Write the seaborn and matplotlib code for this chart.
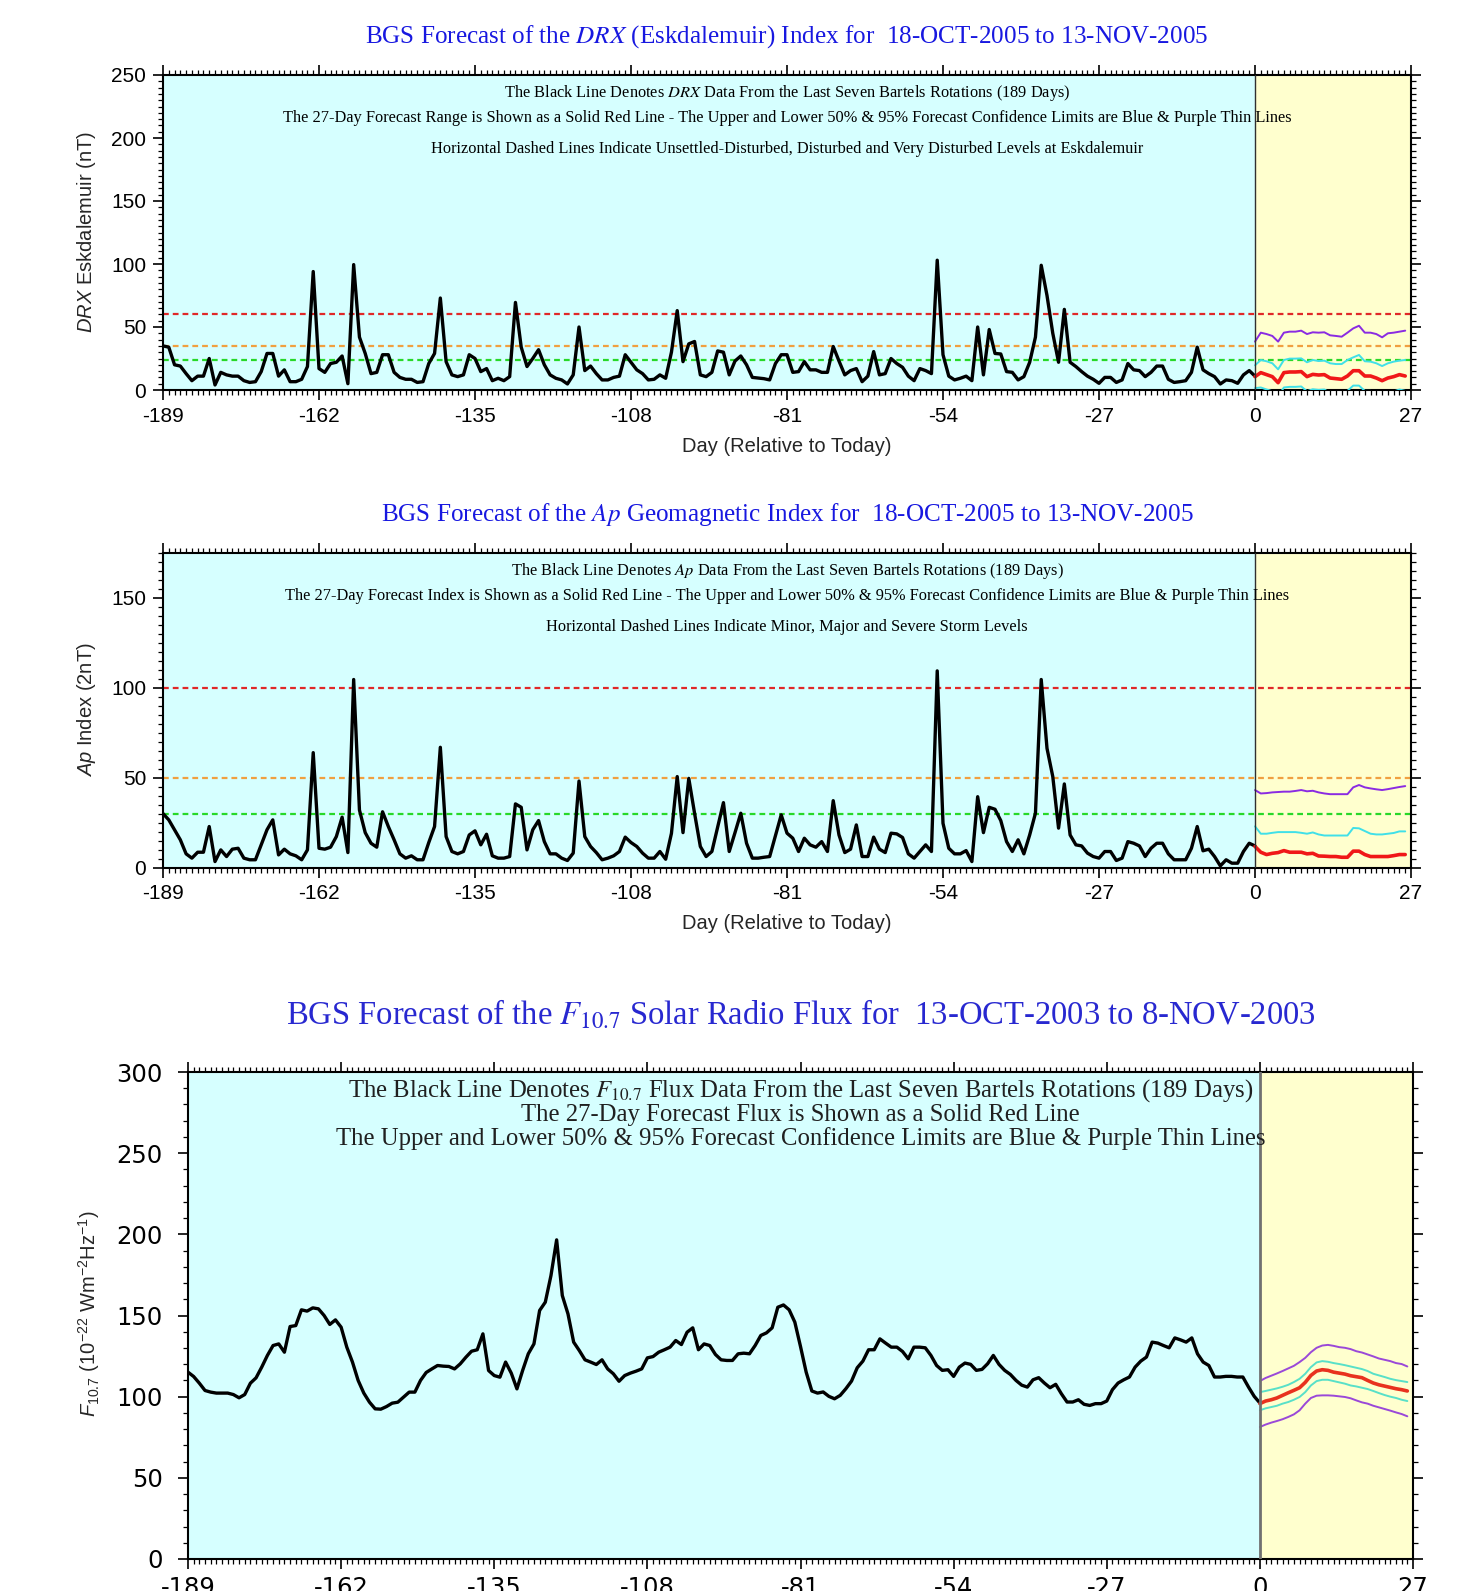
import numpy as np
import pandas as pd
import matplotlib
matplotlib.use('Agg')
import matplotlib.pyplot as plt
import seaborn as sns
from matplotlib.ticker import MultipleLocator

# ---------------- data ----------------
drx_obs = [35, 34, 20, 19, 13, 7.4, 11, 11, 25, 4,
           14, 12, 11, 11, 7.4, 6, 6.6, 14.6, 29, 29,
           11, 16, 6.6, 6.6, 8.5, 18.6, 94, 17, 14, 21,
           22, 27, 5, 99.5, 42, 29, 13, 14, 28, 28,
           14, 10, 8.5, 8.5, 6, 6.6, 21, 29, 73, 22.5,
           12, 10.6, 12, 28, 25, 14.6, 17, 7.4, 9.3, 7.4,
           10.6, 69.5, 34, 18.6, 25, 32, 20, 12, 9.3, 8,
           4.8, 12, 50, 15.4, 19, 13, 8, 8, 10, 11,
           28, 22, 16, 13, 8, 8.5, 12, 9.3, 30, 63,
           22.5, 36.6, 38.5, 12, 10.6, 14, 31, 30, 12, 23,
           27, 20, 10, 9.5, 9, 8, 21, 28, 28, 14,
           14.6, 22.5, 16, 16, 14, 14, 34.5, 23, 12, 15.4,
           17, 6.6, 11, 30.5, 12, 13, 25, 21, 18, 11,
           7.4, 17, 15.4, 13, 103, 28, 11, 8, 9.3, 11,
           7.4, 50, 12, 48, 29, 28.6, 14.6, 14, 8, 10.6,
           22, 42, 99, 75, 45, 22, 64, 22, 18.6, 14.6,
           11, 8.5, 5.3, 10, 10, 6, 8, 21, 16, 15.4,
           10.6, 14, 19, 19, 8.5, 6, 6.6, 7.4, 14, 34,
           16, 13, 10.6, 4.8, 8, 7.4, 5.3, 12, 15.4, 11]
drx_fc = [10.6, 13.8, 12.2, 10.6, 5.8, 13.8, 14.3, 14.3, 14.6, 10.6, 12.4, 11.9, 12.2, 9.5,
          9, 8.5, 11.1, 15.3, 15.3, 11.1, 11.1, 9.5, 7.4, 9.5, 10.6, 12.2, 11.1]
drx_up50 = [19.6, 23.8, 22.8, 21.2, 16.4, 23.8, 24.9, 24.9, 25.1, 22, 23.8, 23, 23.3, 21.2,
            20.6, 20.6, 23.8, 25.9, 27.8, 22.8, 22.5, 21.2, 19, 21.2, 22.5, 23.3, 23.8]
drx_lo50 = [1.5, 2, 0.4, -1, -5, 2, 2.5, 2.5, 2.8, -1, 0.6, 0.1, 0.4, -2.3,
            -2.8, -3.3, -0.7, 3.5, 3.5, -0.7, -0.7, -2.3, -4.4, -2.3, -1.2, 0.4, -0.7]
drx_up95 = [38.4, 45.5, 44.4, 42.9, 38.4, 45.5, 46.3, 46.3, 47.1, 44.4, 45.8, 45.5, 45.8, 43.4,
            42.9, 42.3, 45.5, 48.9, 51, 45.5, 45.5, 44.4, 41.8, 45, 45.5, 46.3, 47.1]
drx_levels = [60, 35, 24]

ap_obs = [30, 26.5, 21, 15.4, 7.6, 5.2, 8.5, 8.5, 22.8, 3.3,
          9.8, 6.1, 10.2, 10.7, 5.2, 4.3, 4.3, 12.6, 21, 26.5,
          7, 10.2, 7.6, 6.5, 4.3, 9.8, 63.9, 10.7, 10.2, 11.3,
          17.2, 28, 8.3, 104.6, 32, 19.4, 13.5, 11.3, 31, 22.8,
          15.4, 7.6, 5.2, 6.5, 4.3, 4.3, 13.9, 22.8, 66.9, 17.2,
          8.9, 7.6, 8.9, 18.1, 20.4, 12.6, 18.5, 6.5, 5.2, 5.2,
          6.1, 35.4, 33.5, 9.8, 21, 26.1, 14.4, 7.6, 7.6, 5.2,
          3.9, 8, 48.1, 17.2, 11.7, 8.3, 4.3, 5.2, 6.5, 8.9,
          16.9, 13.9, 11.7, 8, 5.2, 5.2, 8.9, 4.6, 19, 50.6,
          19.4, 49.6, 30.2, 11.7, 6.1, 8.9, 22.4, 36.1, 8.9, 19.4,
          30.2, 13.5, 5.2, 5.2, 5.7, 6.1, 17.6, 29.3, 19.1, 16.3,
          8.9, 16.3, 12.6, 11.3, 14.4, 8.9, 37.2, 18.1, 8.3, 10.2,
          23.7, 6.1, 6.1, 16.9, 10.2, 8.3, 19.1, 18.7, 16.7, 7.6,
          5.2, 8.9, 12.6, 8.9, 109.4, 24.6, 10.7, 7.6, 7.6, 9.4,
          3.3, 39.4, 19.4, 33.5, 32.4, 26.1, 14.4, 8.9, 15.4, 7.6,
          18.1, 30.2, 104.6, 66.3, 50.6, 21.9, 46.5, 18.1, 12.6, 12,
          8, 6.1, 5.2, 8.9, 8.9, 3.9, 5.2, 14.4, 13.5, 12,
          6.1, 10.7, 13.5, 13.5, 7.6, 4.3, 4.3, 4.3, 10.7, 22.8,
          9.3, 10.2, 6.1, 0.9, 4.3, 2.4, 2.4, 8.9, 13.5, 12]
ap_fc = [11.7, 8.5, 7.2, 7.9, 8.3, 9.4, 8.5, 8.5, 8.5, 7.6, 7.9, 6.4, 6.3, 6.1,
         6.1, 5.7, 5.7, 9.1, 9.1, 7.2, 6.1, 6.1, 6.1, 6.1, 6.6, 7.2, 7.2]
ap_up50 = [22.9, 18.8, 18.8, 19.3, 19.7, 19.7, 19.7, 19.7, 19.3, 18.8, 19.5, 18.4, 17.8, 17.8,
           17.8, 17.8, 17.8, 22, 21.8, 20.3, 18.8, 18.4, 18.4, 18.8, 19.2, 20.1, 20.1]
ap_up95 = [43.1, 41.2, 41.4, 41.8, 42, 42.2, 42.2, 42.6, 43.1, 42.4, 42.7, 41.8, 41.2, 40.8,
           40.8, 40.8, 40.8, 44.6, 45.9, 44.6, 44, 43.5, 43.1, 43.6, 44.2, 44.8, 45.3]
ap_levels = [100, 50, 30]

f107_obs = [115.1, 112.4, 108.3, 103.8, 102.8, 102.2, 102.2, 102.2, 101.3, 99.3,
            101.3, 108.3, 111.6, 118.2, 125.4, 131.5, 132.5, 127.4, 143.2, 143.8,
            153.5, 152.7, 154.7, 154.1, 150, 144.5, 147.3, 142.8, 130.5, 121.3,
            110, 102.2, 96.6, 92.5, 92.3, 93.9, 96, 96.6, 99.7, 102.8,
            102.8, 110, 114.9, 117.1, 119.2, 118.8, 118.6, 117.1, 120.2, 124.3,
            128, 128.9, 138.7, 116.1, 113, 112, 121.3, 114.5, 104.8, 116.1,
            126.4, 132.5, 153.1, 158.2, 174.6, 196.6, 162.3, 151, 133.6, 128.4,
            122.7, 121.3, 119.8, 122.7, 117.1, 114.1, 109.5, 113, 114.5, 115.7,
            117.1, 123.9, 124.7, 127.4, 128.9, 130.5, 134.6, 132.1, 139.7, 142.4,
            128.9, 132.5, 131.5, 126, 122.7, 122.3, 122.3, 126.4, 126.8, 126.4,
            131.5, 137.7, 139.3, 142.4, 155.1, 156.5, 153.5, 145.9, 130.9, 115.1,
            103.5, 102.2, 102.9, 100.2, 98.7, 100.8, 104.9, 109.6, 117.8, 121.9,
            128.9, 128.9, 135.6, 133, 130.5, 130.5, 127.8, 123.3, 130.5, 130.5,
            130.1, 125.4, 119.2, 116.2, 116.6, 112.5, 118.2, 120.7, 119.9, 116.2,
            116.8, 120.3, 125.4, 119.9, 116.2, 113.7, 110, 107.1, 105.9, 110.4,
            111.7, 108.4, 105.5, 107.6, 101.8, 96.7, 96.7, 98.1, 95.3, 94.6,
            95.7, 95.7, 97.3, 104.3, 108.4, 110.4, 112.1, 118.2, 121.9, 124.4,
            133.6, 133, 131.5, 130.1, 136.2, 135, 133.6, 136.2, 126.4, 121.3,
            119.2, 112.1, 112.1, 112.5, 112.5, 112.1, 112.1, 105.9, 100.2, 96.1]
f107_fc = [95.7, 97.3, 98.1, 99.2, 100.8, 102.4, 103.9, 105.5, 108.8, 113.1, 115.8, 116.6, 116.2,
           115.1, 114.5, 113.9, 112.9, 112.3, 111.7, 110, 108.4, 107.3, 106.5, 105.7, 104.9, 104.3, 103.5]
f107_up50 = [102.8, 103.5, 104.3, 105.1, 106.1, 107.3, 109, 111, 114.1, 118.2, 121.1, 121.9, 121.5,
             120.7, 120.1, 119.4, 118.6, 117.8, 117, 115.8, 114.1, 113.1, 112.1, 111, 110.2, 109.6, 109]
f107_lo50 = [91.6, 92.8, 93.6, 94.4, 95.7, 96.7, 98.1, 99.8, 102.8, 106.9, 109.6, 110.4, 110.4,
             109.6, 108.8, 108, 106.9, 106.3, 105.5, 104.7, 103.5, 102.2, 101, 100, 99.2, 98.1, 97.3]
f107_up95 = [109.6, 111.5, 112.9, 114.3, 115.8, 117.4, 119, 121.3, 123.9, 127.4, 130.1, 131.5, 131.9,
             131.3, 130.5, 130.1, 129.3, 128, 127.2, 126, 124.8, 123.5, 122.7, 121.9, 120.7, 120.1, 118.6]
f107_lo95 = [81.3, 82.8, 84, 85, 86.1, 87.5, 89.1, 91.6, 95.7, 99.2, 100.6, 100.8, 100.8,
             100.6, 100.2, 99.8, 99, 97.7, 96.5, 95.7, 94.4, 93.4, 92.4, 91.4, 90.3, 89.3, 87.9]

obs_days = np.arange(-189, 1)
fc_days = np.arange(0, 27)

# ---------------- style ----------------
sns.set_style('ticks')
plt.rcParams['font.family'] = ['Liberation Sans', 'DejaVu Sans']
plt.rcParams['mathtext.fontset'] = 'custom'
plt.rcParams['mathtext.rm'] = 'Liberation Sans'
plt.rcParams['mathtext.it'] = 'Liberation Sans:italic'
plt.rcParams['axes.unicode_minus'] = False

W, H = 1463, 1591
fig = plt.figure(figsize=(W / 100, H / 100), dpi=100)
fig.patch.set_facecolor('white')


def fx(px):
    return px / W


def fy(py):
    return 1 - py / H


def make_axes(l, t, r, b):
    return fig.add_axes([fx(l), fy(b), (r - l) / W, (b - t) / H])


BG_CYAN = '#D6FFFF'
BG_YEL = '#FFFFCE'


def style_axes(ax, ymax, ymajor, yminor, fs, family, ypad=5, xpad=5):
    ax.set_xlim(-189, 27)
    ax.set_ylim(0, ymax)
    ax.xaxis.set_major_locator(MultipleLocator(27))
    ax.xaxis.set_minor_locator(MultipleLocator(1))
    ax.yaxis.set_major_locator(MultipleLocator(ymajor))
    ax.yaxis.set_minor_locator(MultipleLocator(yminor))
    ax.tick_params(which='both', direction='out', top=True, right=True,
                   labeltop=False, labelright=False, colors='black')
    ax.tick_params(which='major', length=7, width=1.2, labelsize=fs)
    ax.tick_params(axis='y', which='major', pad=ypad)
    ax.tick_params(axis='x', which='major', pad=xpad)
    ax.tick_params(which='minor', length=3.5, width=0.9)
    for s in ax.spines.values():
        s.set_visible(True)
        s.set_linewidth(1.5)
        s.set_color('black')
    for lab in ax.get_xticklabels() + ax.get_yticklabels():
        lab.set_family(family)
    ax.set_xlabel('')
    ax.set_ylabel('')


def line(ax, x, y, color, lw, z=3):
    df = pd.DataFrame({'day': x, 'value': y})
    sns.lineplot(data=df, x='day', y='value', ax=ax, color=color, linewidth=lw,
                 estimator=None, sort=False, legend=False, zorder=z)


def backdrop(ax, vcolor, vlw):
    ax.axvspan(-189, 0, facecolor=BG_CYAN, lw=0, zorder=0)
    ax.axvspan(0, 27, facecolor=BG_YEL, lw=0, zorder=0)
    ax.axvline(0, color=vcolor, lw=vlw, zorder=4)


DASH = (0, (2.6, 1.8))
LEVEL_COLORS = ['#E02828', '#F0A040', '#28D828']

# ---------------- panel 1 : DRX ----------------
ax1 = make_axes(163, 75, 1411, 390)
backdrop(ax1, '#303030', 1.0)
for lv, c in zip(drx_levels, LEVEL_COLORS):
    ax1.axhline(lv, color=c, ls=DASH, lw=1.6, zorder=1)
line(ax1, obs_days, drx_obs, 'black', 2.4)
line(ax1, fc_days, drx_up95, '#8A2BE2', 1.4)
line(ax1, fc_days, drx_up50, '#40E0E8', 1.4)
line(ax1, fc_days, drx_lo50, '#40E0E8', 1.4)
line(ax1, fc_days, drx_fc, '#F01818', 2.6)
style_axes(ax1, 250, 50, 5, 15, 'Liberation Sans')

# ---------------- panel 2 : Ap ----------------
ax2 = make_axes(163, 553, 1411, 867.5)
backdrop(ax2, '#303030', 1.0)
for lv, c in zip(ap_levels, LEVEL_COLORS):
    ax2.axhline(lv, color=c, ls=DASH, lw=1.6, zorder=1)
line(ax2, obs_days, ap_obs, 'black', 2.4)
line(ax2, fc_days, ap_up95, '#8A2BE2', 1.4)
line(ax2, fc_days, ap_up50, '#40E0E8', 1.4)
line(ax2, fc_days, ap_fc, '#F01818', 2.6)
style_axes(ax2, 175, 50, 5, 15, 'Liberation Sans')

# ---------------- panel 3 : F10.7 ----------------
ax3 = make_axes(188, 1072, 1413, 1559)
backdrop(ax3, '#707070', 2.0)
line(ax3, obs_days, f107_obs, 'black', 2.4)
line(ax3, fc_days, f107_up95, '#9A48D8', 1.4)
line(ax3, fc_days, f107_lo95, '#9A48D8', 1.4)
line(ax3, fc_days, f107_up50, '#58E0C8', 1.4)
line(ax3, fc_days, f107_lo50, '#58E0C8', 1.4)
line(ax3, fc_days, f107_fc, '#E8321E', 2.6)
style_axes(ax3, 300, 50, 10, 17.5, 'DejaVu Sans', ypad=11, xpad=5)

# ---------------- texts ----------------
TITLE_BLUE = '#1818E0'
serif = ['Liberation Serif', 'DejaVu Serif']

fig.text(fx(787), fy(37), r'BGS Forecast of the $DRX$ (Eskdalemuir) Index for  18-OCT-2005 to 13-NOV-2005',
         ha='center', va='center', color=TITLE_BLUE, fontsize=18.1, family=serif, math_fontfamily='stix')
fig.text(fx(787), fy(515), r'BGS Forecast of the $Ap$ Geomagnetic Index for  18-OCT-2005 to 13-NOV-2005',
         ha='center', va='center', color=TITLE_BLUE, fontsize=18.1, family=serif, math_fontfamily='stix')
fig.text(fx(800.5), fy(1015), r'BGS Forecast of the $F_{10.7}$ Solar Radio Flux for  13-OCT-2003 to 8-NOV-2003',
         ha='center', va='center', color='#2828D0', fontsize=23.5, family=serif, math_fontfamily='stix')

ann1 = [r'The Black Line Denotes $DRX$ Data From the Last Seven Bartels Rotations (189 Days)',
        'The 27-Day Forecast Range is Shown as a Solid Red Line - The Upper and Lower 50% & 95% Forecast Confidence Limits are Blue & Purple Thin Lines',
        'Horizontal Dashed Lines Indicate Unsettled-Disturbed, Disturbed and Very Disturbed Levels at Eskdalemuir']
for s, yy in zip(ann1, [93.3, 117.7, 149.1]):
    fig.text(fx(787), fy(yy), s, ha='center', va='center', fontsize=11.8, family=serif,
             math_fontfamily='stix', color='black', zorder=10)

ann2 = [r'The Black Line Denotes $Ap$ Data From the Last Seven Bartels Rotations (189 Days)',
        'The 27-Day Forecast Index is Shown as a Solid Red Line - The Upper and Lower 50% & 95% Forecast Confidence Limits are Blue & Purple Thin Lines',
        'Horizontal Dashed Lines Indicate Minor, Major and Severe Storm Levels']
for s, yy in zip(ann2, [571.2, 595.6, 627.0]):
    fig.text(fx(787), fy(yy), s, ha='center', va='center', fontsize=11.8, family=serif,
             math_fontfamily='stix', color='black', zorder=10)

ann3 = [r'The Black Line Denotes $F_{10.7}$ Flux Data From the Last Seven Bartels Rotations (189 Days)',
        'The 27-Day Forecast Flux is Shown as a Solid Red Line',
        'The Upper and Lower 50% & 95% Forecast Confidence Limits are Blue & Purple Thin Lines']
for s, yy in zip(ann3, [1090.5, 1114.5, 1138.8]):
    fig.text(fx(800.5), fy(yy), s, ha='center', va='center', fontsize=17.8, family=serif,
             math_fontfamily='stix', color='#202020', zorder=10)

fig.text(fx(787), fy(446.4), 'Day (Relative to Today)', ha='center', va='center', fontsize=14.5)
fig.text(fx(787), fy(923.3), 'Day (Relative to Today)', ha='center', va='center', fontsize=14.5)

fig.text(fx(86), fy(232), r'$DRX$ Eskdalemuir (nT)', ha='center', va='center', rotation=90, fontsize=14.5)
fig.text(fx(86), fy(710), r'$Ap$ Index (2nT)', ha='center', va='center', rotation=90, fontsize=14.5)
fig.text(fx(89), fy(1314), r'$F_{10.7}$ (10$^{-22}$ Wm$^{-2}$Hz$^{-1}$)', ha='center', va='center',
         rotation=90, fontsize=14.5)

fig.savefig('out.png', dpi=100, facecolor='white')
